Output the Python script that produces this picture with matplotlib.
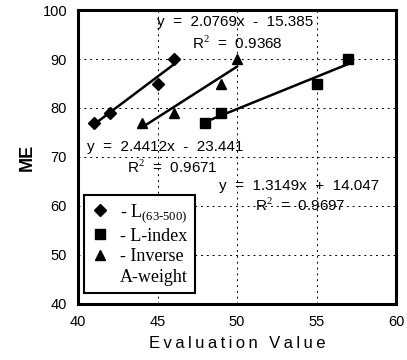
import matplotlib
matplotlib.use("Agg")
from matplotlib import pyplot as plt
from matplotlib.lines import Line2D
import numpy as np

# evaluation values for each metric, ME is shared
me = [77, 79, 85, 90]
x_l63 = [41, 42, 45, 46]
x_lindex = [48, 49, 55, 57]
x_inverse = [44, 46, 49, 50]

# fitted line labels and where they sit
fit_texts = [
    ("y  =  2.0769x  -  15.385", 49.9, 97.6),
    ("R$^2$  =  0.9368", 50.0, 93.3),
    ("y  =  2.4412x  -  23.441", 45.5, 72.0),
    ("R$^2$  =  0.9671", 45.9, 67.9),
    ("y  =  1.3149x  +  14.047", 53.9, 64.0),
    ("R$^2$  =  0.9697", 54.0, 60.1),
]

plt.rcParams['font.family'] = ['Liberation Sans', 'DejaVu Sans']
plt.rcParams['mathtext.fontset'] = 'custom'
plt.rcParams['mathtext.rm'] = 'Liberation Serif'

fig = plt.figure(figsize=(4.07, 3.6), dpi=100)
ax = fig.add_axes([0.192, 0.156, 0.781, 0.816])

series = [(x_l63, 'D', 6.5), (x_lindex, 's', 7.5), (x_inverse, '^', 7.5)]
for xs, mk, ms in series:
    ax.plot(xs, me, linestyle='none', marker=mk, color='black', markersize=ms, zorder=3)
    k, b = np.polyfit(xs, me, 1)
    xx = np.array([min(xs), max(xs)])
    ax.plot(xx, k * xx + b, color='black', linewidth=1.8, zorder=2)

for txt, tx, ty in fit_texts:
    ax.text(tx, ty, txt, ha='center', va='center', fontsize=11)

ax.set_xlim(40, 60)
ax.set_ylim(40, 100)
ax.set_xticks([40, 45, 50, 55, 60])
ax.set_yticks([40, 50, 60, 70, 80, 90, 100])
ax.tick_params(direction='in', length=0, labelsize=10.5, pad=8)
ax.grid(True, color='black', linestyle=(0, (2, 4)), linewidth=0.7)
for s in ax.spines.values():
    s.set_linewidth(2.2)

ax.set_xlabel("\u2009".join("Evaluation Value"), fontsize=12, labelpad=5)
ax.set_ylabel("ME", fontsize=13, fontweight='bold', labelpad=5)

handles = [
    Line2D([], [], linestyle='none', marker='D', color='black', markersize=6.5),
    Line2D([], [], linestyle='none', marker='s', color='black', markersize=7.5),
    Line2D([], [], linestyle='none', marker='^', color='black', markersize=7.5),
    Line2D([], [], linestyle='none'),
]
labels = ["- L$_{\\mathregular{(63\u2010500)}}$", "- L-index", "- Inverse", "A-weight"]
leg = ax.legend(handles, labels, loc='lower left', bbox_to_anchor=(0.019, 0.037),
                frameon=True, fancybox=False, edgecolor='black', framealpha=1,
                prop={'family': 'Liberation Serif', 'size': 13},
                handlelength=1.0, handletextpad=0.6, labelspacing=0.2,
                borderpad=0.4, borderaxespad=0)
leg.get_frame().set_linewidth(1.5)
leg.set_zorder(5)

fig.savefig("out.png", dpi=100)
